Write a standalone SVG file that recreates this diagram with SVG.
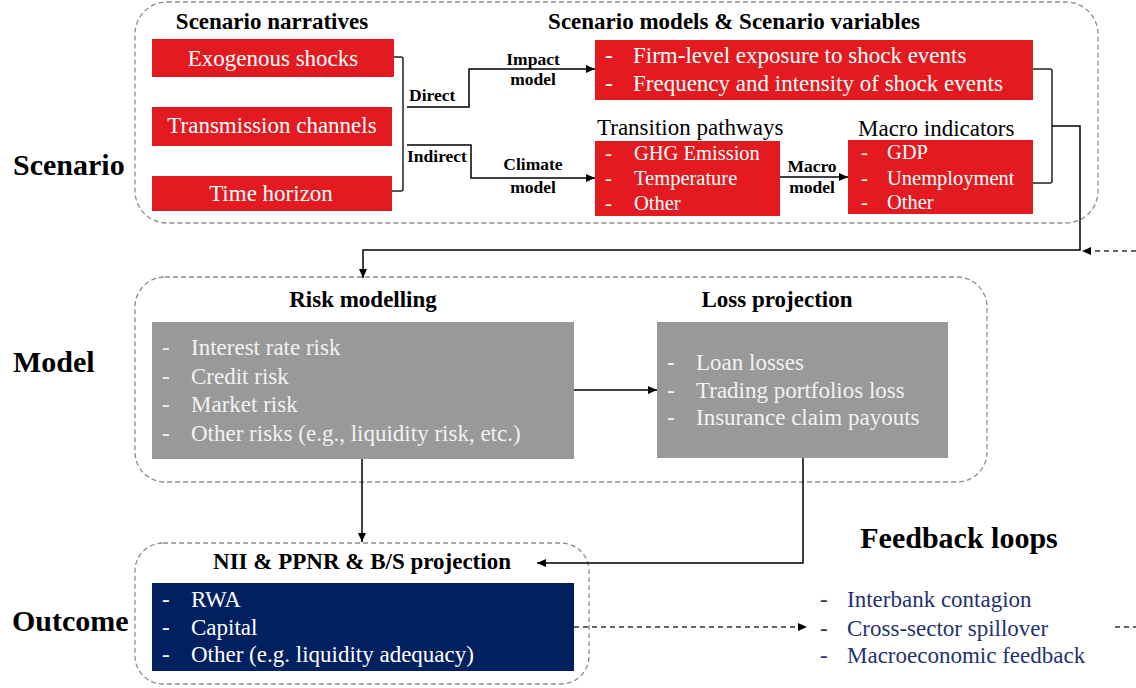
<svg xmlns="http://www.w3.org/2000/svg" width="1136" height="688" viewBox="0 0 1136 688">
<style>
.t{font-family:"Liberation Serif","Times New Roman",serif;}
.b{font-weight:bold;}
.sec{font-size:30px;font-weight:bold;}
.ttl{font-size:23px;font-weight:bold;}
.lab{font-size:17.5px;font-weight:bold;}
.w{fill:#ffffff;font-size:23px;}
.ws{fill:#ffffff;font-size:20.5px;}
.g{fill:#f2f2f2;font-size:23px;}
.fb{fill:#1f3370;font-size:23px;}
.red{fill:#e31a1f;}
.gray{fill:#999999;}
.navy{fill:#002060;}
.cont{fill:none;stroke:#8c8c8c;stroke-width:1.3;stroke-dasharray:5,3;}
.c{fill:none;stroke:#000;stroke-width:1.5;}
.br{fill:none;stroke:#222;stroke-width:1.5;}
.d{fill:none;stroke:#333;stroke-width:1.5;stroke-dasharray:5,4;}
</style>
<defs>
<marker id="ah" markerUnits="userSpaceOnUse" markerWidth="10" markerHeight="8" refX="9" refY="4" orient="auto">
<path d="M0,0 L9,4 L0,8 Z" fill="#000"/>
</marker>
</defs>
<rect width="1136" height="688" fill="#ffffff"/>

<g id="section-labels" class="t">
<text class="sec" x="13" y="175">Scenario</text>
<text class="sec" x="13" y="372">Model</text>
<text class="sec" x="12" y="631">Outcome</text>
</g>

<g id="containers">
<rect class="cont" x="135" y="2" width="963" height="221" rx="32"/>
<rect class="cont" x="135" y="277" width="852" height="205" rx="30"/>
<rect class="cont" x="135" y="543" width="454" height="141" rx="28"/>
</g>

<g id="titles" class="t">
<text class="ttl" x="272" y="29" text-anchor="middle">Scenario narratives</text>
<text class="ttl" x="734" y="29" text-anchor="middle">Scenario models &amp; Scenario variables</text>
<text class="ttl" x="363" y="307" text-anchor="middle">Risk modelling</text>
<text class="ttl" x="777" y="307" text-anchor="middle">Loss projection</text>
<text class="ttl" x="362" y="569" text-anchor="middle">NII &amp; PPNR &amp; B/S projection</text>
<text class="ttl" x="959" y="548" text-anchor="middle" style="font-size:30px">Feedback loops</text>
</g>

<g id="exogenous-shocks" class="t">
<rect class="red" x="152" y="39" width="242" height="38"/>
<text class="w" x="273" y="66" text-anchor="middle">Exogenous shocks</text>
</g>
<g id="transmission-channels" class="t">
<rect class="red" x="152" y="107" width="240" height="39"/>
<text class="w" x="272" y="133" text-anchor="middle">Transmission channels</text>
</g>
<g id="time-horizon" class="t">
<rect class="red" x="152" y="176" width="240" height="35"/>
<text class="w" x="271" y="201" text-anchor="middle">Time horizon</text>
</g>

<g id="shock-events" class="t">
<rect class="red" x="595" y="40" width="438" height="60"/>
<text class="w" x="605" y="63">-</text><text class="w" x="633" y="63">Firm-level exposure to shock events</text>
<text class="w" x="605" y="91">-</text><text class="w" x="633" y="91">Frequency and intensity of shock events</text>
</g>

<g id="transition-pathways" class="t">
<text x="597" y="135" style="font-size:23px" fill="#000">Transition pathways</text>
<rect class="red" x="595" y="141" width="185" height="75"/>
<text class="ws" x="605" y="160">-</text><text class="ws" x="634" y="160">GHG Emission</text>
<text class="ws" x="605" y="185">-</text><text class="ws" x="634" y="185">Temperature</text>
<text class="ws" x="605" y="210">-</text><text class="ws" x="634" y="210">Other</text>
</g>

<g id="macro-indicators" class="t">
<text x="858" y="136" style="font-size:23px" fill="#000">Macro indicators</text>
<rect class="red" x="848" y="140" width="185" height="74"/>
<text class="ws" x="861" y="159">-</text><text class="ws" x="887" y="159">GDP</text>
<text class="ws" x="861" y="185">-</text><text class="ws" x="887" y="185">Unemployment</text>
<text class="ws" x="861" y="209">-</text><text class="ws" x="887" y="209">Other</text>
</g>

<g id="risk-modelling" class="t">
<rect class="gray" x="152" y="322" width="422" height="137"/>
<text class="g" x="162" y="355">-</text><text class="g" x="191" y="355">Interest rate risk</text>
<text class="g" x="162" y="383.5">-</text><text class="g" x="191" y="383.5">Credit risk</text>
<text class="g" x="162" y="412">-</text><text class="g" x="191" y="412">Market risk</text>
<text class="g" x="162" y="440.5">-</text><text class="g" x="191" y="440.5">Other risks (e.g., liquidity risk, etc.)</text>
</g>

<g id="loss-projection" class="t">
<rect class="gray" x="657" y="322" width="291" height="136"/>
<text class="g" x="667" y="370">-</text><text class="g" x="696" y="370">Loan losses</text>
<text class="g" x="667" y="398">-</text><text class="g" x="696" y="398">Trading portfolios loss</text>
<text class="g" x="667" y="425">-</text><text class="g" x="696" y="425">Insurance claim payouts</text>
</g>

<g id="outcome" class="t">
<rect class="navy" x="152" y="583" width="422" height="88"/>
<text class="w" x="162" y="607">-</text><text class="w" x="191" y="607">RWA</text>
<text class="w" x="162" y="635">-</text><text class="w" x="191" y="635">Capital</text>
<text class="w" x="162" y="662">-</text><text class="w" x="191" y="662">Other (e.g. liquidity adequacy)</text>
</g>

<g id="feedback-loops" class="t">
<text class="fb" x="820" y="607">-</text><text class="fb" x="847" y="607">Interbank contagion</text>
<text class="fb" x="820" y="636">-</text><text class="fb" x="847" y="636">Cross-sector spillover</text>
<text class="fb" x="820" y="663">-</text><text class="fb" x="847" y="663">Macroeconomic feedback</text>
</g>

<g id="connectors">
<path class="br" d="M394,57 H401 Q403,57 403,59 V189 Q403,191 401,191 H392"/>
<path class="c" d="M407,107 H469 V69 H595" marker-end="url(#ah)"/>
<path class="c" d="M407,145 H471 V178 H595" marker-end="url(#ah)"/>
<path class="c" d="M780,177 H848" marker-end="url(#ah)"/>
<path class="br" d="M1033,69 H1050 Q1052,69 1052,71 V181 Q1052,183 1050,183 H1033"/>
<path class="c" d="M1052,126 H1080 V250 H363 V278" marker-end="url(#ah)"/>
<path class="d" d="M1136,251 H1082" marker-end="url(#ah)"/>
<path class="c" d="M574,390 H657" marker-end="url(#ah)"/>
<path class="c" d="M362,459 V542" marker-end="url(#ah)"/>
<path class="c" d="M803,458 V563 H537" marker-end="url(#ah)"/>
<path class="d" d="M574,627 H807" marker-end="url(#ah)"/>
<path class="d" d="M1115,627 H1136"/>
</g>

<g id="connector-labels" class="t">
<text class="lab" x="409" y="101">Direct</text>
<text class="lab" x="407" y="162">Indirect</text>
<text class="lab" x="533" y="65" text-anchor="middle">Impact</text>
<text class="lab" x="533" y="85" text-anchor="middle">model</text>
<text class="lab" x="533" y="170" text-anchor="middle">Climate</text>
<text class="lab" x="533" y="193" text-anchor="middle">model</text>
<text class="lab" x="812" y="172" text-anchor="middle">Macro</text>
<text class="lab" x="812" y="193" text-anchor="middle">model</text>
</g>
</svg>
